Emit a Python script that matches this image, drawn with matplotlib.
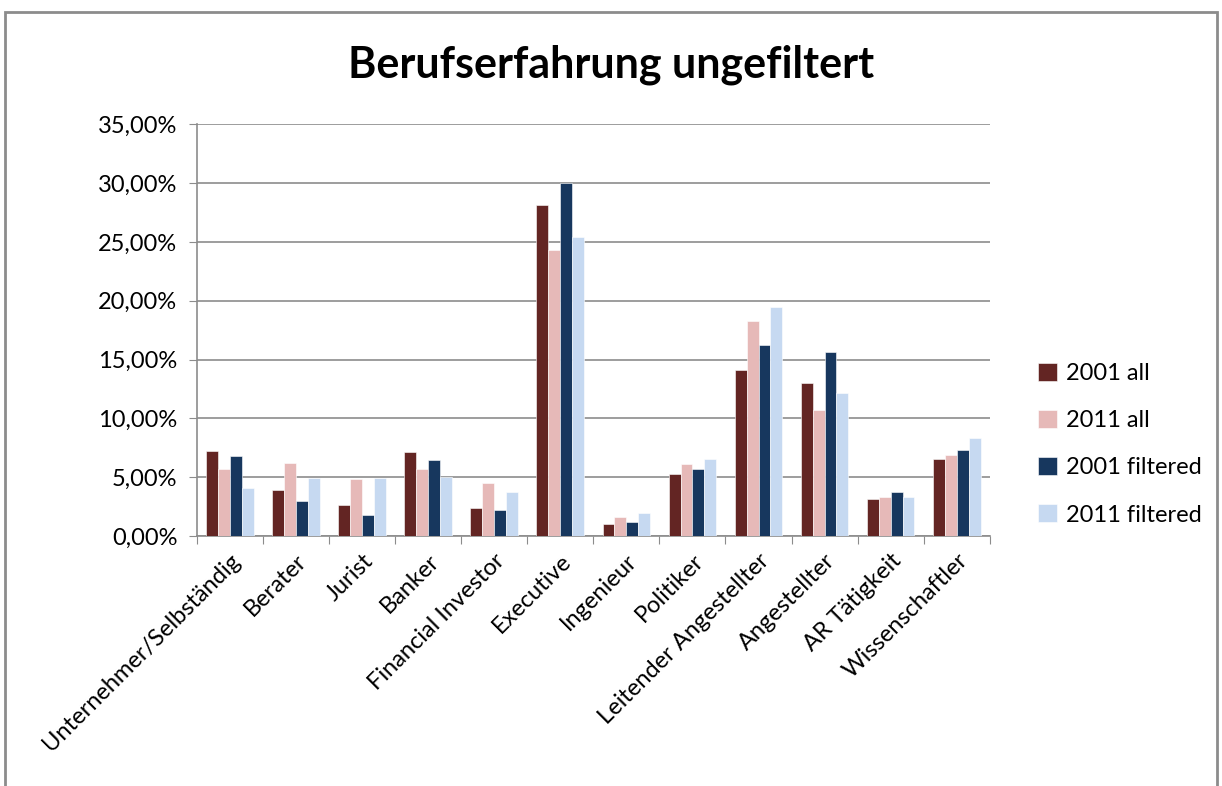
import numpy as np
import matplotlib.pyplot as plt
from matplotlib.ticker import FuncFormatter, FixedLocator
from matplotlib.patches import Rectangle

plt.rcParams['font.family'] = ['Lato', 'DejaVu Sans']

categories = ['Unternehmer/Selbständig', 'Berater', 'Jurist', 'Banker',
              'Financial Investor', 'Executive', 'Ingenieur', 'Politiker',
              'Leitender Angestellter', 'Angestellter', 'AR Tätigkeit',
              'Wissenschaftler']

all_2001 = [7.22, 3.94, 2.63, 7.11, 2.41, 28.13, 1.02, 5.27, 14.11, 13.00, 3.12, 6.57]
all_2011 = [5.69, 6.23, 4.82, 5.69, 4.50, 24.33, 1.64, 6.12, 18.24, 10.71, 3.31, 6.88]
filtered_2001 = [6.77, 2.97, 1.78, 6.46, 2.24, 30.00, 1.22, 5.69, 16.26, 15.61, 3.77, 7.34]
filtered_2011 = [4.08, 4.96, 4.96, 5.01, 3.74, 25.41, 1.98, 6.57, 19.43, 12.12, 3.31, 8.30]

series = [all_2001, all_2011, filtered_2001, filtered_2011]
labels = ['2001 all', '2011 all', '2001 filtered', '2011 filtered']
colors = ['#632523', '#E6B9B8', '#17375E', '#C6D9F1']

fig = plt.figure(figsize=(12.22, 7.86), dpi=100)
ax = fig.add_axes([0.161, 0.318, 0.649, 0.524])

x = np.arange(len(categories))
width = 0.18
for i, (vals, lab, col) in enumerate(zip(series, labels, colors)):
    ax.bar(x + (i - 1.5) * width, vals, width, label=lab, color=col,
           edgecolor='white', linewidth=0.4, zorder=3)

ax.set_xlim(-0.5, len(categories) - 0.5)
ax.set_ylim(0, 35)
ax.set_yticks(np.arange(0, 36, 5))
ax.yaxis.set_major_formatter(FuncFormatter(lambda v, p: f'{v:.2f}%'.replace('.', ',')))
ax.yaxis.grid(True, color='#8c8c8c', linewidth=1.2, zorder=0)

ax.xaxis.set_major_locator(FixedLocator(np.arange(-0.5, len(categories), 1.0)))
ax.xaxis.set_major_formatter(FuncFormatter(lambda v, p: ''))
ax.xaxis.set_minor_locator(FixedLocator(x))
ax.set_xticklabels(categories, minor=True, rotation=45, ha='right',
                   rotation_mode='anchor', fontsize=17)
ax.tick_params(axis='x', which='minor', length=0, pad=10)
ax.tick_params(axis='x', which='major', length=6, color='#8c8c8c')
ax.tick_params(axis='y', length=6, color='#8c8c8c', labelsize=17, pad=8)

for s in ['top', 'right']:
    ax.spines[s].set_visible(False)
for s in ['left', 'bottom']:
    ax.spines[s].set_color('#8c8c8c')
    ax.spines[s].set_linewidth(1.2)

fig.text(0.5, 0.917, 'Berufserfahrung ungefiltert', ha='center', va='center',
         fontsize=31, fontweight='bold')

leg = fig.legend(loc='center left', bbox_to_anchor=(0.832, 0.565), frameon=False,
                 fontsize=17, handlelength=0.8, handleheight=0.8,
                 labelspacing=1.1, handletextpad=0.4)
leg.set_bbox_to_anchor((0.832, 0.435), transform=fig.transFigure)

fig.patches.append(Rectangle((0.004, -0.01), 0.992, 0.995, transform=fig.transFigure,
                             fill=False, edgecolor='#8c8c8c', linewidth=2))

fig.savefig('out.png', dpi=100)
